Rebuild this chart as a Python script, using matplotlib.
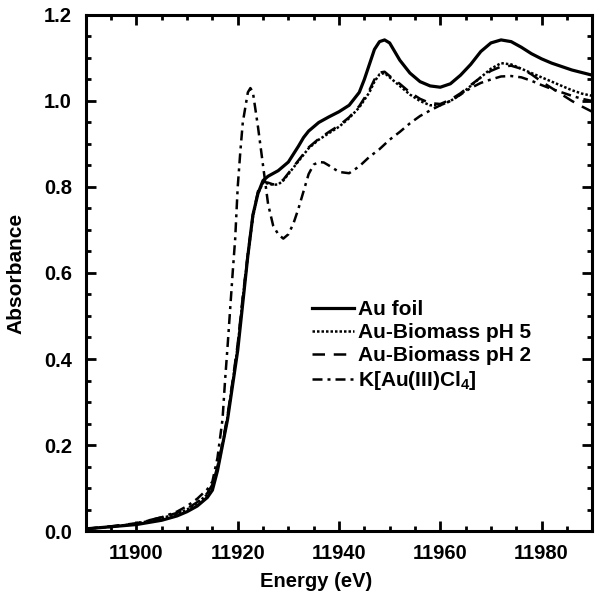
import matplotlib
matplotlib.use("Agg")
import matplotlib.pyplot as plt
from matplotlib.ticker import MultipleLocator

plt.rcParams['font.family'] = ['Liberation Sans', 'DejaVu Sans']
plt.rcParams['mathtext.fontset'] = 'custom'
plt.rcParams['mathtext.bf'] = 'Liberation Sans:bold'
plt.rcParams['mathtext.rm'] = 'Liberation Sans:bold'

# Au foil
e_foil = [11890, 11895, 11900, 11905, 11908, 11910, 11912, 11914, 11915, 11916, 11917, 11918, 11919, 11920,
          11921, 11922, 11923, 11924, 11925, 11926, 11928, 11930, 11932, 11933, 11934, 11936, 11938, 11940,
          11942, 11944, 11945, 11946, 11947, 11948, 11949, 11950, 11951, 11952, 11954, 11956, 11958, 11960,
          11962, 11964, 11966, 11968, 11970, 11972, 11974, 11976, 11978, 11980, 11982, 11984, 11986, 11988, 11990]
a_foil = [0.005, 0.01, 0.015, 0.025, 0.035, 0.045, 0.058, 0.078, 0.095, 0.14, 0.2, 0.26, 0.34, 0.42,
          0.53, 0.64, 0.735, 0.785, 0.815, 0.825, 0.838, 0.858, 0.895, 0.915, 0.93, 0.95, 0.963, 0.975,
          0.99, 1.02, 1.05, 1.085, 1.12, 1.138, 1.142, 1.135, 1.115, 1.095, 1.065, 1.045, 1.035, 1.032,
          1.04, 1.06, 1.085, 1.115, 1.135, 1.142, 1.138, 1.125, 1.11, 1.098, 1.088, 1.08, 1.072, 1.066, 1.06]

# Au-Biomass pH 5
e_ph5 = [11890, 11895, 11900, 11905, 11908, 11910, 11912, 11914, 11915, 11916, 11917, 11918, 11919, 11920,
         11921, 11922, 11923, 11924, 11925, 11926, 11927, 11928, 11929, 11930, 11932, 11934, 11936, 11938,
         11940, 11942, 11944, 11946, 11947, 11948, 11949, 11950, 11952, 11954, 11956, 11958, 11960, 11962,
         11964, 11966, 11968, 11970, 11972, 11974, 11976, 11978, 11980, 11982, 11984, 11986, 11988, 11990]
a_ph5 = [0.005, 0.01, 0.017, 0.03, 0.04, 0.05, 0.065, 0.085, 0.105, 0.145, 0.2, 0.265, 0.345, 0.43,
         0.54, 0.64, 0.73, 0.785, 0.81, 0.808, 0.805, 0.806, 0.815, 0.83, 0.86, 0.89, 0.91, 0.925,
         0.94, 0.96, 0.985, 1.02, 1.045, 1.062, 1.065, 1.055, 1.035, 1.015, 1.0, 0.99, 0.99, 1.0,
         1.015, 1.035, 1.055, 1.075, 1.088, 1.085, 1.075, 1.065, 1.055, 1.045, 1.035, 1.025, 1.017, 1.012]

# Au-Biomass pH 2
e_ph2 = [11890, 11895, 11900, 11905, 11908, 11910, 11912, 11914, 11915, 11916, 11917, 11918, 11919, 11920,
         11921, 11922, 11923, 11924, 11925, 11926, 11927, 11928, 11929, 11930, 11932, 11934, 11936, 11938,
         11940, 11942, 11944, 11946, 11947, 11948, 11949, 11950, 11952, 11954, 11956, 11958, 11960, 11962,
         11964, 11966, 11968, 11970, 11972, 11974, 11976, 11978, 11980, 11982, 11984, 11986, 11988, 11990]
a_ph2 = [0.005, 0.011, 0.018, 0.032, 0.042, 0.052, 0.067, 0.088, 0.108, 0.15, 0.205, 0.27, 0.35, 0.435,
         0.545, 0.645, 0.735, 0.79, 0.812, 0.81, 0.806, 0.808, 0.817, 0.832, 0.862, 0.892, 0.912, 0.928,
         0.943, 0.962, 0.988, 1.025, 1.05, 1.066, 1.068, 1.058, 1.04, 1.02, 1.005, 0.995, 0.993, 1.003,
         1.018, 1.037, 1.055, 1.07, 1.08, 1.082, 1.075, 1.062, 1.045, 1.03, 1.015, 1.0, 0.987, 0.975]

# K[Au(III)Cl4]
e_k = [11890, 11895, 11900, 11905, 11908, 11910, 11912, 11914, 11915, 11916, 11917, 11917.5, 11918, 11919,
       11919.5, 11920, 11920.5, 11921, 11922, 11922.5, 11923, 11924, 11925, 11926, 11927, 11928, 11929,
       11930, 11931, 11932, 11933, 11934, 11935, 11936, 11937, 11938, 11940, 11942, 11944, 11946, 11948,
       11950, 11952, 11954, 11956, 11958, 11960, 11962, 11964, 11966, 11968, 11970, 11972, 11974, 11976,
       11978, 11980, 11982, 11984, 11986, 11988, 11990]
a_k = [0.005, 0.01, 0.017, 0.032, 0.045, 0.058, 0.075, 0.097, 0.115, 0.17, 0.26, 0.35, 0.43, 0.6,
       0.68, 0.8, 0.88, 0.95, 1.02, 1.03, 1.02, 0.94, 0.85, 0.76, 0.71, 0.69, 0.68,
       0.69, 0.715, 0.75, 0.79, 0.83, 0.852, 0.858, 0.857, 0.85, 0.835, 0.832, 0.848, 0.87, 0.888,
       0.91, 0.928, 0.948, 0.965, 0.978, 0.99, 1.0, 1.015, 1.03, 1.042, 1.05, 1.057, 1.058, 1.055,
       1.047, 1.037, 1.028, 1.02, 1.012, 1.005, 1.0]

labels = ["Au foil", "Au-Biomass pH 5", "Au-Biomass pH 2", r"K[Au(III)Cl$_\mathbf{4}$]"]
x_ticks = [11900, 11920, 11940, 11960, 11980]
y_ticks = [0.0, 0.2, 0.4, 0.6, 0.8, 1.0, 1.2]

fig = plt.figure(figsize=(6.0, 5.99), dpi=100)
ax = fig.add_axes([0.143, 0.1135, 0.844, 0.8615])

ax.plot(e_foil, a_foil, color='black', lw=2.3, ls='-', label=labels[0])
ax.plot(e_ph5, a_ph5, color='black', lw=1.8, ls=(0, (1, 0.8)), label=labels[1])
ax.plot(e_ph2, a_ph2, color='black', lw=1.8, ls=(0, (5, 3.5)), label=labels[2])
ax.plot(e_k, a_k, color='black', lw=1.8, ls=(0, (4, 2, 1.2, 2)), label=labels[3])

ax.set_xlim(11890, 11990)
ax.set_ylim(0, 1.2)
ax.set_xticks(x_ticks)
ax.set_yticks(y_ticks)
ax.set_yticklabels([f"{v:.1f}" for v in y_ticks])
ax.xaxis.set_minor_locator(MultipleLocator(5))
ax.yaxis.set_minor_locator(MultipleLocator(0.05))
ax.tick_params(which='both', direction='in', top=True, right=True, width=2)
ax.tick_params(which='major', length=7, labelsize=14.5)
ax.tick_params(axis='x', which='major', pad=9.5)
ax.tick_params(axis='y', which='major', pad=10)
ax.tick_params(which='minor', length=3.5)
for lab in ax.get_xticklabels() + ax.get_yticklabels():
    lab.set_fontweight('bold')
for s in ax.spines.values():
    s.set_linewidth(2.2)

ax.set_xlabel("Energy (eV)", fontsize=14.5, fontweight='bold')
ax.xaxis.set_label_coords(0.455, -0.08)
ax.set_ylabel("Absorbance", fontsize=15, fontweight='bold', labelpad=13)

leg = ax.legend(loc='upper left', bbox_to_anchor=(0.447, 0.447), frameon=False,
                prop={'weight': 'bold', 'size': 15}, handlelength=2.0,
                handletextpad=0.2, labelspacing=0.19, borderaxespad=0, borderpad=0)

fig.savefig("out.png", dpi=100)
